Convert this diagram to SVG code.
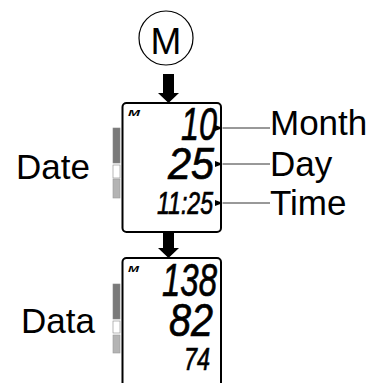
<svg xmlns="http://www.w3.org/2000/svg" width="374" height="383" viewBox="0 0 374 383">
<defs>
<style>
.lbl{font-family:"Liberation Sans",Arial,sans-serif;font-size:35px;fill:#000}
.lcd{font-family:"Liberation Sans",Arial,sans-serif;font-style:italic;fill:#000;stroke:#000;stroke-width:0.7;text-anchor:end}
.m{font-family:"Liberation Sans",Arial,sans-serif;font-style:italic;font-weight:bold;font-size:9px;fill:#000}
.box{fill:#fff;stroke:#000;stroke-width:2}
.dark{fill:#7a7a7a;stroke:#888;stroke-width:0.6}
.white{fill:#fff;stroke:#888;stroke-width:0.6}
.light{fill:#b4b4b4;stroke:#999;stroke-width:0.6}
.lead{stroke:#333;stroke-width:1;fill:none}
.big{fill:#000}
</style>
<marker id="ah" viewBox="0 0 8 6" refX="0" refY="3" markerWidth="8" markerHeight="6" orient="auto-start-reverse" markerUnits="userSpaceOnUse">
<path d="M8,0 L0,3 L8,6 Z" fill="#000"/>
</marker>
</defs>
<rect width="374" height="383" fill="#fff"/>

<g id="button-m">
<circle cx="166" cy="38" r="27" fill="#fff" stroke="#000" stroke-width="1.2"/>
<text x="166" y="54" font-family="Liberation Sans, Arial, sans-serif" font-size="37" text-anchor="middle">M</text>
</g>

<g id="display-date">
<rect class="box" x="122.5" y="103" width="98.5" height="129" rx="4"/>
<text class="m" x="128" y="116" textLength="12" lengthAdjust="spacingAndGlyphs">M</text>
<text class="lcd" x="217" y="140" font-size="46" textLength="36" lengthAdjust="spacingAndGlyphs">10</text>
<text class="lcd" x="214" y="179" font-size="45" textLength="46" lengthAdjust="spacingAndGlyphs">25</text>
<text class="lcd" x="213" y="214" font-size="31" textLength="56" lengthAdjust="spacingAndGlyphs">11:25</text>
<rect class="dark" x="113" y="128" width="7" height="35"/>
<rect class="white" x="113" y="165" width="7" height="13"/>
<rect class="light" x="113" y="179" width="7" height="19"/>
</g>

<g id="display-data">
<rect class="box" x="122.5" y="258" width="98.5" height="140" rx="4"/>
<text class="m" x="128" y="272" textLength="11" lengthAdjust="spacingAndGlyphs">M</text>
<text class="lcd" x="217" y="296" font-size="47" textLength="55" lengthAdjust="spacingAndGlyphs">138</text>
<text class="lcd" x="213" y="336" font-size="47" textLength="44" lengthAdjust="spacingAndGlyphs">82</text>
<text class="lcd" x="210" y="370" font-size="32" textLength="26" lengthAdjust="spacingAndGlyphs">74</text>
<rect class="dark" x="113" y="284" width="7" height="35"/>
<rect class="white" x="113" y="321" width="7" height="12"/>
<rect class="light" x="113" y="335" width="7" height="18"/>
</g>

<g id="label-date"><text class="lbl" x="16" y="179" font-size="33">Date</text></g>
<g id="label-data"><text class="lbl" x="21" y="333" font-size="33">Data</text></g>
<g id="label-month"><text class="lbl" x="270" y="135">Month</text></g>
<g id="label-day"><text class="lbl" x="270" y="176">Day</text></g>
<g id="label-time"><text class="lbl" x="270" y="215">Time</text></g>

<g id="connectors">
<path class="big" d="M163,74 H174 V93 H179 L168.5,103 L158,93 H163 Z"/>
<path class="big" d="M163,232 H174 V248 H179 L168.5,258 L158,248 H163 Z"/>
<line class="lead" x1="270" y1="128" x2="223" y2="128" marker-end="url(#ah)"/>
<line class="lead" x1="270" y1="164" x2="223" y2="164" marker-end="url(#ah)"/>
<line class="lead" x1="270" y1="203" x2="223" y2="203" marker-end="url(#ah)"/>
</g>
</svg>
